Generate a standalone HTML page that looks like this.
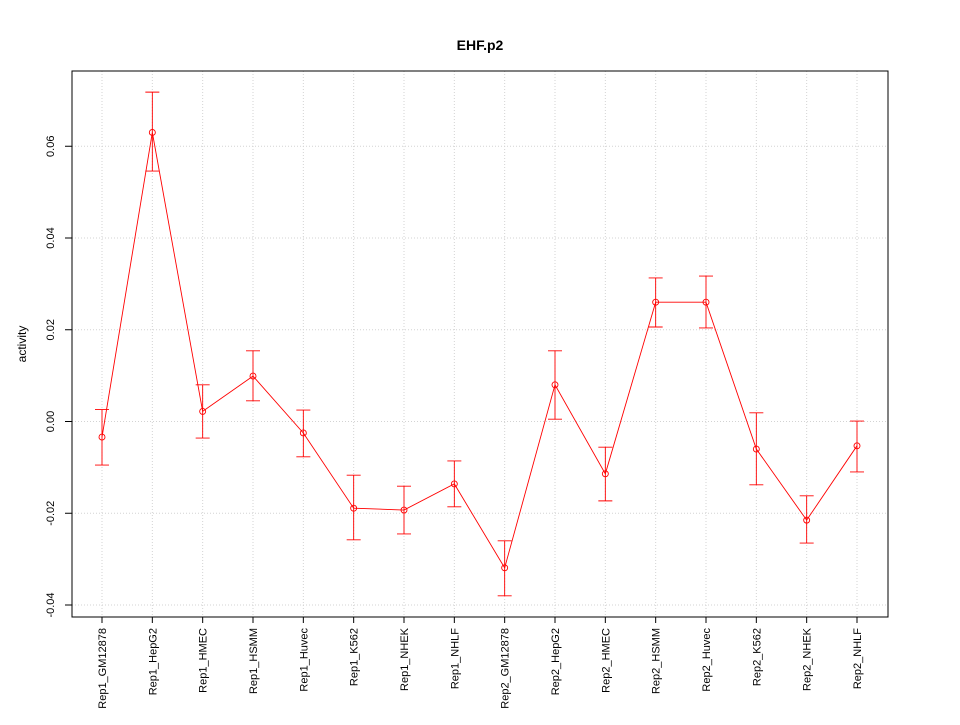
<!DOCTYPE html>
<html><head><meta charset="utf-8"><style>
body{margin:0;background:#fff;}
text{font-family:"Liberation Sans",sans-serif;}
</style></head><body>
<svg id="chart" width="960" height="720" xmlns="http://www.w3.org/2000/svg">
<rect width="960" height="720" fill="#fff"/>
<text x="480" y="50" text-anchor="middle" font-size="14" font-weight="bold">EHF.p2</text>
<g id="grid"></g>
<rect x="72" y="71" width="816" height="546" fill="none" stroke="#000"/>
<g id="axes"></g>
<g id="marks"></g>
<text transform="translate(26,344) rotate(-90)" text-anchor="middle" font-size="12">activity</text>
</svg>
<script>
const categories=["Rep1_GM12878","Rep1_HepG2","Rep1_HMEC","Rep1_HSMM","Rep1_Huvec","Rep1_K562","Rep1_NHEK","Rep1_NHLF","Rep2_GM12878","Rep2_HepG2","Rep2_HMEC","Rep2_HSMM","Rep2_Huvec","Rep2_K562","Rep2_NHEK","Rep2_NHLF"];
const values=[-0.0034,0.063,0.0022,0.0099,-0.0025,-0.0189,-0.0193,-0.0136,-0.0319,0.008,-0.0114,0.026,0.026,-0.006,-0.0215,-0.0053];
const upper=[0.0026,0.0718,0.008,0.0154,0.0025,-0.0117,-0.0141,-0.0086,-0.026,0.0154,-0.0056,0.0313,0.0317,0.0019,-0.0162,0.0001];
const lower=[-0.0095,0.0546,-0.0036,0.0045,-0.0077,-0.0258,-0.0245,-0.0186,-0.038,0.0005,-0.0173,0.0206,0.0204,-0.0138,-0.0265,-0.011];
const yTicks=[-0.04,-0.02,0,0.02,0.04,0.06];
const yTickLabels=["-0.04","-0.02","0.00","0.02","0.04","0.06"];
const NS="http://www.w3.org/2000/svg";
function x(i){return 102+i*(857-102)/(categories.length-1);}
function y(v){return 421.5-v*4587.5;}
function mk(tag,attrs,parent){const e=document.createElementNS(NS,tag);for(const k in attrs)e.setAttribute(k,attrs[k]);document.getElementById(parent).appendChild(e);return e;}
categories.forEach((c,i)=>{
 const g=mk('line',{x1:x(i),x2:x(i),y1:71,y2:617,stroke:'#d3d3d3','stroke-dasharray':'1,2'},'grid');
 
 
 const t=mk('line',{x1:x(i),x2:x(i),y1:617,y2:623,stroke:'#000'},'axes');
 
 
 const l=mk('text',{transform:`translate(${x(i)+4},628) rotate(-90)`,'text-anchor':'end','font-size':'11'},'axes');
 l.textContent=c;
 
 
});
yTicks.forEach((v,i)=>{
 const g=mk('line',{x1:72,x2:888,y1:y(v),y2:y(v),stroke:'#d3d3d3','stroke-dasharray':'1,2'},'grid');
 
 
 const t=mk('line',{x1:65,x2:72,y1:y(v),y2:y(v),stroke:'#000'},'axes');
 
 
 const l=mk('text',{transform:`translate(54,${y(v)}) rotate(-90)`,'text-anchor':'middle','font-size':'11'},'axes');
 l.textContent=yTickLabels[i];
 
 
});
const line=mk('polyline',{points:values.map((v,i)=>x(i)+','+y(v)).join(' '),fill:'none',stroke:'#ff0000','stroke-width':'0.9'},'marks');


values.forEach((v,i)=>{
 const e=mk('path',{d:`M${x(i)},${y(upper[i])}V${y(lower[i])}M${x(i)-7},${y(upper[i])}H${x(i)+7}M${x(i)-7},${y(lower[i])}H${x(i)+7}`,stroke:'#ff0000',fill:'none','stroke-width':'0.9'},'marks');
 
 
 const p=mk('circle',{cx:x(i),cy:y(v),r:3,fill:'none',stroke:'#ff0000','stroke-width':'0.9'},'marks');
 
 
});
</script>
</body></html>
